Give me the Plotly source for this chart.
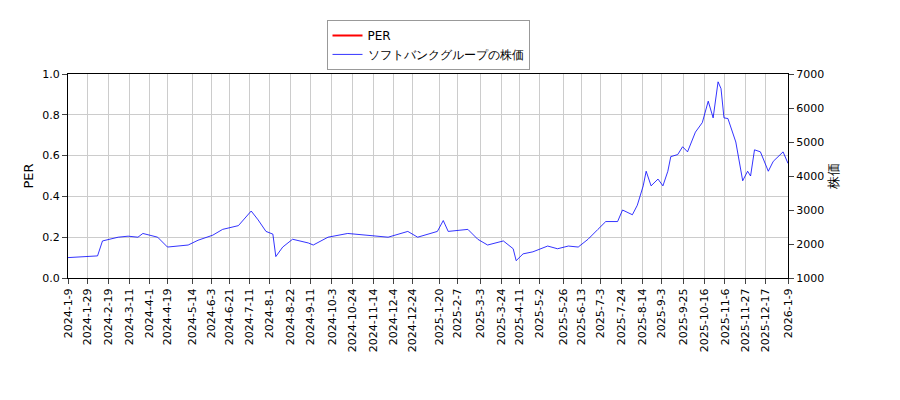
import plotly.graph_objects as go
import pandas as pd

start = pd.Timestamp("2024-01-09")
day_offsets = [0,30,35,51,61,71,76,91,101,122,132,147,157,173,186,193,201,208,211,218,228,244,249,264,284,305,325,345,355,375,381,386,406,416,426,442,452,455,462,472,487,497,508,518,528,538,546,558,563,573,578,584,587,592,599,604,609,612,619,624,629,637,644,650,655,660,663,666,670,678,685,690,693,697,703,711,716,726,731]
price = [1600,1650,2090,2200,2230,2200,2310,2200,1910,1970,2110,2260,2430,2540,2970,2710,2370,2290,1630,1910,2140,2030,1970,2200,2310,2260,2200,2370,2200,2370,2690,2370,2430,2140,1970,2090,1860,1510,1710,1770,1940,1860,1940,1910,2140,2430,2660,2660,3000,2860,3140,3710,4140,3710,3910,3710,4140,4570,4630,4860,4710,5290,5570,6200,5710,6770,6570,5710,5690,5000,3860,4140,4000,4770,4710,4140,4430,4710,4370]
dates = [(start + pd.Timedelta(days=d)).strftime("%Y-%m-%d") for d in day_offsets]

tick_labels = ["2024-1-9","2024-1-29","2024-2-19","2024-3-11","2024-4-1","2024-4-19","2024-5-14","2024-6-3","2024-6-21","2024-7-11","2024-8-1","2024-8-22","2024-9-11","2024-10-3","2024-10-24","2024-11-14","2024-12-4","2024-12-24","2025-1-20","2025-2-7","2025-3-3","2025-3-24","2025-4-11","2025-5-2","2025-5-26","2025-6-13","2025-7-3","2025-7-24","2025-8-14","2025-9-3","2025-9-25","2025-10-16","2025-11-6","2025-11-27","2025-12-17","2026-1-9"]
tick_vals = [pd.Timestamp(t).strftime("%Y-%m-%d") for t in tick_labels]

fig = go.Figure()
fig.add_trace(go.Scatter(x=[dates[0]], y=[None], mode="lines", line=dict(color="red"), name="PER", yaxis="y"))
fig.add_trace(go.Scatter(x=dates, y=price, mode="lines", line=dict(color="blue", width=0.8), name="ソフトバンクグループの株価", yaxis="y2"))

ax = dict(showline=True, linecolor="black", mirror=True, ticks="outside", gridcolor="#cccccc", zeroline=False)
fig.update_layout(
    width=900, height=400, paper_bgcolor="white", plot_bgcolor="white",
    margin=dict(l=60, r=120, t=60, b=130),
    font=dict(family="DejaVu Sans", size=11, color="black"),
    showlegend=True,
    legend=dict(x=0.5, y=1.02, xanchor="center", yanchor="bottom", bordercolor="#999", borderwidth=1, bgcolor="white", font=dict(size=12)),
    xaxis=dict(ax, type="date", range=["2024-01-09", "2026-01-09"], tickvals=tick_vals, ticktext=tick_labels, tickangle=-90),
    yaxis=dict(ax, range=[0, 1], dtick=0.2, tickformat=".1f", title=dict(text="PER", standoff=5)),
    yaxis2=dict(showline=False, ticks="outside", overlaying="y", side="right", range=[1000, 7000], dtick=1000,
                showgrid=False, zeroline=False, title=dict(text="株価", standoff=5)),
)
fig.write_html("out.html")
